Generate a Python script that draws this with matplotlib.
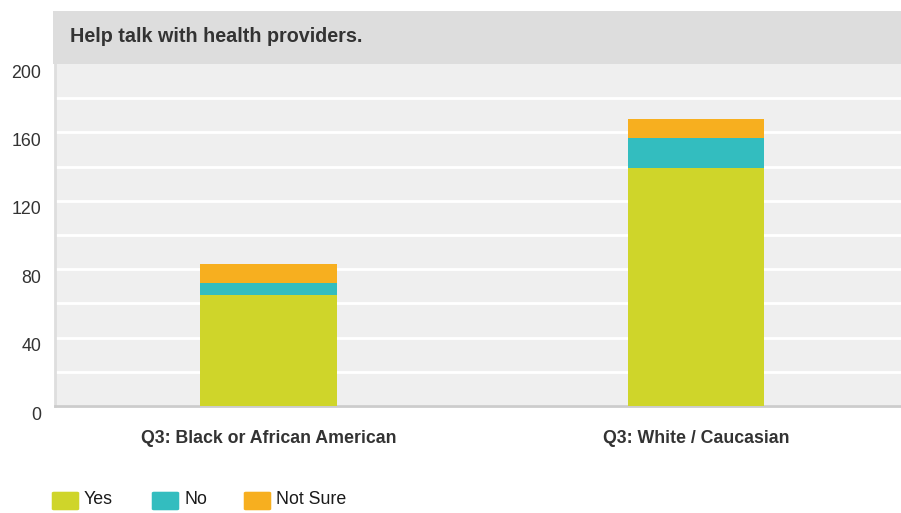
import numpy as np
import matplotlib
matplotlib.use('Agg')
import matplotlib.pyplot as plt
import matplotlib.transforms as mtransforms
from matplotlib.patches import Rectangle, FancyBboxPatch

# data
categories = ['Q3: Black or African American', 'Q3: White / Caucasian']
yes = [65, 139]
no = [7, 18]
not_sure = [11, 11]
series_names = ['Yes', 'No', 'Not Sure']
colors = ['#cfd52a', '#33bdbf', '#f7af1f']
y_ticks = [0, 20, 40, 60, 80, 100, 120, 140, 160, 180, 200]

plt.rcParams['font.family'] = ['Liberation Sans', 'DejaVu Sans']

W, H = 901, 513
fig = plt.figure(figsize=(W / 100, H / 100), dpi=100)

def fx(px):
	return px / W

def fy(py):
	return 1 - py / H

# title bar
fig.patches.append(Rectangle((fx(53), fy(64)), fx(W - 53), fy(11) - fy(64),
	transform=fig.transFigure, facecolor='#dddddd', edgecolor='none', zorder=0))
fig.text(fx(70), fy(36), 'Help talk with health providers.', fontsize=14.2,
	fontweight='bold', color='#333333', va='center', ha='left')

ax = fig.add_axes([fx(55), fy(406), fx(W - 55), fy(64) - fy(406)])
ax.set_facecolor('#efefef')

x = np.arange(len(categories))
bw = 0.32
bottom = np.zeros(len(categories))
for vals, col in zip([yes, no, not_sure], colors):
	ax.bar(x, vals, bw, bottom=bottom, color=col, zorder=3, linewidth=0)
	bottom += np.array(vals)

ax.set_xlim(-0.5, 1.48)
ax.set_ylim(0, 200)

ax.set_yticks(y_ticks)
ax.set_yticklabels([str(v) if v % 40 == 0 else '' for v in y_ticks],
	fontsize=12.8, color='#333333')
ax.grid(axis='y', color='white', linewidth=2, zorder=1)
ax.set_axisbelow(True)
ax.get_ygridlines()[-1].set_visible(False)
ax.tick_params(axis='y', length=0, pad=10)
off = mtransforms.ScaledTranslation(0, -7 / 100, fig.dpi_scale_trans)
for lab in ax.get_yticklabels():
	lab.set_transform(lab.get_transform() + off)

ax.set_xticks(x)
ax.set_xticklabels(categories, fontsize=12.8, fontweight='bold', color='#333333')
ax.tick_params(axis='x', length=0, pad=17)

for s in ['top', 'right']:
	ax.spines[s].set_visible(False)
ax.spines['left'].set_color('#dedede')
ax.spines['left'].set_linewidth(2)
ax.spines['bottom'].set_color('#cccccc')
ax.spines['bottom'].set_linewidth(2)

# legend
leg_x = [52, 152, 244]
for lx, name, col in zip(leg_x, series_names, colors):
	fig.patches.append(FancyBboxPatch((fx(lx + 2), fy(509)), fx(23), fy(493) - fy(509),
		boxstyle='round,pad=0.0025', transform=fig.transFigure,
		facecolor=col, edgecolor='none'))
	fig.text(fx(lx + 32), fy(499), name, fontsize=12.8, color='#1a1a1a',
		va='center', ha='left')

fig.savefig('out.png', dpi=100)
